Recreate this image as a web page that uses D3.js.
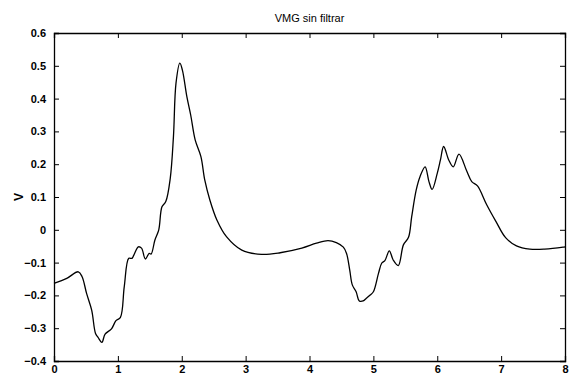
<!DOCTYPE html>
<html>
<head>
<meta charset="utf-8">
<script src="https://cdn.jsdelivr.net/npm/d3@7"></script>
<style>
  body { margin: 0; background: #fff; }
  text { font-family: "Liberation Sans", Arial, sans-serif; }
</style>
</head>
<body>
<div class="chart"></div>
<script>
// signal samples (time, volts)
var timeVals = [0, 0.2, 0.38, 0.44, 0.51, 0.59, 0.65, 0.69, 0.75, 0.80, 0.90, 0.97, 1.04, 1.10, 1.17, 1.22, 1.25, 1.32, 1.37, 1.43, 1.49, 1.52, 1.58, 1.64, 1.69, 1.75, 1.82, 1.87, 1.91, 1.97, 2.01, 2.08, 2.14, 2.21, 2.30, 2.36, 2.44, 2.55, 2.70, 2.94, 3.25, 3.54, 3.88, 4.11, 4.29, 4.42, 4.53, 4.58, 4.63, 4.67, 4.73, 4.78, 4.84, 4.89, 4.95, 5.00, 5.08, 5.13, 5.18, 5.25, 5.31, 5.39, 5.47, 5.55, 5.60, 5.67, 5.73, 5.81, 5.87, 5.92, 6.00, 6.05, 6.10, 6.18, 6.25, 6.34, 6.46, 6.54, 6.63, 6.77, 6.92, 7.07, 7.24, 7.45, 7.68, 7.97, 8.0];
var voltVals = [-0.163, -0.148, -0.128, -0.143, -0.194, -0.245, -0.316, -0.328, -0.343, -0.318, -0.302, -0.277, -0.267, -0.173, -0.087, -0.087, -0.077, -0.052, -0.056, -0.089, -0.072, -0.074, -0.031, 0.0, 0.070, 0.086, 0.157, 0.284, 0.447, 0.508, 0.487, 0.406, 0.350, 0.274, 0.223, 0.152, 0.091, 0.030, -0.021, -0.062, -0.075, -0.070, -0.056, -0.041, -0.033, -0.039, -0.053, -0.072, -0.123, -0.168, -0.189, -0.217, -0.217, -0.209, -0.199, -0.189, -0.133, -0.102, -0.094, -0.064, -0.092, -0.109, -0.046, -0.023, 0.040, 0.121, 0.162, 0.192, 0.147, 0.123, 0.172, 0.213, 0.254, 0.213, 0.192, 0.231, 0.180, 0.147, 0.134, 0.078, 0.025, -0.024, -0.049, -0.059, -0.059, -0.053, -0.052];
var xTicks = [0, 1, 2, 3, 4, 5, 6, 7, 8];
var yTicks = [-0.4, -0.3, -0.2, -0.1, 0, 0.1, 0.2, 0.3, 0.4, 0.5, 0.6];

var W = 570, H = 379;
var margin = { top: 33, left: 54, right: 5, bottom: 18 };

var svg = d3.select(".chart").append("svg")
    .attr("width", W)
    .attr("height", H);

var xScale = d3.scaleLinear()
    .domain([0, 8])
    .range([margin.left, W - margin.right]);
var yScale = d3.scaleLinear()
    .domain([-0.4, 0.6])
    .range([H - margin.bottom, margin.top]);

var fmt = function(d) { return d === 0 ? "0" : d3.format(".1f")(d); };

// bottom / left axes with inward ticks
svg.append("g")
    .attr("transform", `translate(0,${yScale(-0.4)})`)
    .call(d3.axisBottom(xScale).tickValues(xTicks).tickSize(-5).tickPadding(6).tickFormat(d3.format("d")))
    .call(g => g.selectAll("text").attr("dy", "0.55em"));
svg.append("g")
    .attr("transform", `translate(${xScale(0)},0)`)
    .call(d3.axisLeft(yScale).tickValues(yTicks).tickSize(-5).tickPadding(8).tickFormat(fmt));
// top / right mirror ticks
svg.append("g")
    .attr("transform", `translate(0,${yScale(0.6)})`)
    .call(d3.axisTop(xScale).tickValues(xTicks).tickSize(-5).tickFormat(""));
svg.append("g")
    .attr("transform", `translate(${xScale(8)},0)`)
    .call(d3.axisRight(yScale).tickValues(yTicks).tickSize(-5).tickFormat(""));

svg.selectAll(".domain").attr("stroke", "#000").attr("stroke-width", 1.3);
svg.selectAll(".tick line").attr("stroke", "#000").attr("stroke-width", 1);
svg.selectAll(".tick text")
    .attr("fill", "#000")
    .style("font-size", "11px")
    .style("font-weight", "bold");

var pts = timeVals.map(function(t, i) { return [t, voltVals[i]]; });
var line = d3.line()
    .x(function(d) { return xScale(d[0]); })
    .y(function(d) { return yScale(d[1]); })
    .curve(d3.curveCatmullRom.alpha(0.5));

svg.append("path")
    .datum(pts)
    .attr("d", line)
    .attr("fill", "none")
    .attr("stroke", "#000")
    .attr("stroke-width", 1.3);

svg.append("text")
    .attr("text-anchor", "middle")
    .attr("x", (xScale(0) + xScale(8)) / 2)
    .attr("y", 22)
    .text("VMG sin filtrar")
    .style("font-size", "11px");

svg.append("text")
    .attr("text-anchor", "middle")
    .attr("transform", `translate(23,${(yScale(-0.4) + yScale(0.6)) / 2}) rotate(-90)`)
    .text("V")
    .style("font-size", "12px")
    .style("font-weight", "bold");
</script>
</body>
</html>
